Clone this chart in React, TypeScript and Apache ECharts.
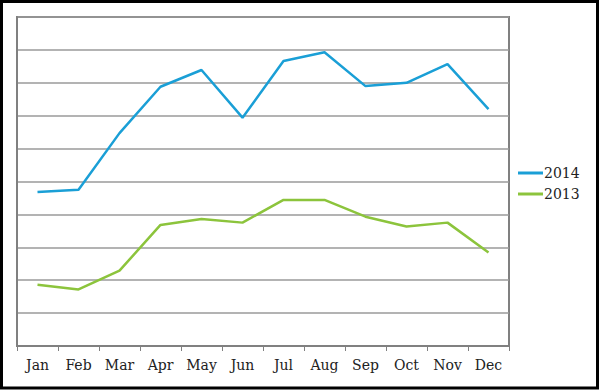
import React, { useEffect, useRef } from "react";
import * as echarts from "echarts";

const months = ["Jan", "Feb", "Mar", "Apr", "May", "Jun", "Jul", "Aug", "Sep", "Oct", "Nov", "Dec"];
const values2014 = [46.8, 47.5, 64.7, 78.8, 83.9, 69.4, 86.6, 89.3, 79.0, 80.0, 85.7, 72.0];
const values2013 = [18.6, 17.2, 22.9, 36.8, 38.6, 37.5, 44.4, 44.4, 39.3, 36.3, 37.5, 28.4];

export default function App() {
  const ref = useRef<HTMLDivElement>(null);
  useEffect(() => {
    document.body.style.margin = "0";
    const chart = echarts.init(ref.current!, null, { renderer: "svg" });
    const font = "'DejaVu Serif', 'Liberation Serif', serif";
    chart.setOption({
      animation: false,
      backgroundColor: "#ffffff",
      grid: {
        left: 17,
        top: 17,
        right: 91,
        bottom: 44,
        show: true,
        borderColor: "#808080",
        borderWidth: 2,
      },
      legend: {
        orient: "vertical",
        left: 518,
        top: 166,
        padding: 0,
        itemWidth: 25,
        itemHeight: 3,
        itemGap: 7,
        icon: "rect",
        textStyle: { fontFamily: font, fontSize: 14, color: "#222", padding: [0, 0, 0, -4] },
        data: ["2014", "2013"],
      },
      xAxis: {
        type: "category",
        data: months,
        boundaryGap: true,
        axisLine: { lineStyle: { color: "#808080", width: 2 } },
        axisTick: { show: true, length: 5, lineStyle: { color: "#808080", width: 1 } },
        axisLabel: { fontFamily: font, fontSize: 14, color: "#222", margin: 12 },
      },
      yAxis: {
        type: "value",
        min: 0,
        max: 100,
        interval: 10,
        axisLabel: { show: false },
        axisTick: { show: false },
        axisLine: { show: true, lineStyle: { color: "#808080", width: 2 } },
        splitLine: { lineStyle: { color: "#9a9a9a", width: 1.5 } },
      },
      series: [
        {
          name: "2014",
          type: "line",
          data: values2014,
          showSymbol: false,
          symbol: "none",
          lineStyle: { color: "#1a9fd6", width: 2.5 },
          itemStyle: { color: "#1a9fd6" },
        },
        {
          name: "2013",
          type: "line",
          data: values2013,
          showSymbol: false,
          symbol: "none",
          lineStyle: { color: "#8cc43c", width: 2.5 },
          itemStyle: { color: "#8cc43c" },
        },
      ],
      graphic: [
        {
          type: "rect",
          shape: { x: 1.5, y: 1.5, width: 596, height: 386.5 },
          style: { fill: "none", stroke: "#000", lineWidth: 3 },
          silent: true,
        },
      ],
    });
    return () => chart.dispose();
  }, []);
  return <div ref={ref} style={{ width: 600, height: 390, position: "absolute", left: 0, top: 0 }} />;
}
